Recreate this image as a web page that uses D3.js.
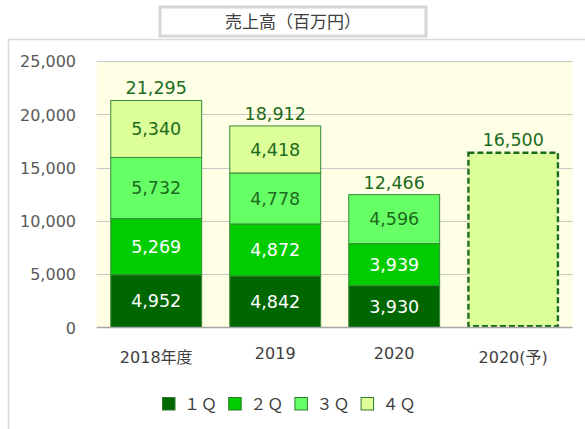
<!DOCTYPE html>
<html><head><meta charset="utf-8">
<script src="https://cdn.jsdelivr.net/npm/d3@7"></script>
<style>
html,body{margin:0;padding:0;background:#fff;}
svg{display:block;}
</style></head>
<body>
<svg id="chart" width="585" height="429"></svg>
<script>
const title = "売上高（百万円）";
const categories = ["2018年度", "2019", "2020", "2020(予)"];
const q1 = [4952, 4842, 3930, null];
const q2 = [5269, 4872, 3939, null];
const q3 = [5732, 4778, 4596, null];
const q4 = [5340, 4418, null, null];
const totals = [21295, 18912, 12466, 16500];
const forecast = [null, null, null, 16500];
const seriesNames = ["１Ｑ", "２Ｑ", "３Ｑ", "４Ｑ"];
const yTicks = [0, 5000, 10000, 15000, 20000, 25000];

const colors = ["#006600", "#00cc00", "#66ff66", "#ddff99"];
const labelColors = ["#ffffff", "#ffffff", "#1d6b1d", "#1d6b1d"];
const darkGreen = "#1d6b1d";
const fontLatin = "'DejaVu Sans', Verdana, sans-serif";
const fontCJK = "'Noto Sans CJK JP', 'DejaVu Sans', sans-serif";
const fontMixed = "'DejaVu Sans', 'Noto Sans CJK JP', sans-serif";

const svg = d3.select("#chart");
const fmt = d3.format(",");

// outer frame
svg.append("rect").attr("x", 8.5).attr("y", 39.5).attr("width", 600).attr("height", 420)
  .attr("fill", "#fff").attr("stroke", "#d9d9d9").attr("stroke-width", 1.5);

// title box
svg.append("rect").attr("x", 160).attr("y", 7).attr("width", 266).attr("height", 29)
  .attr("fill", "#fff").attr("stroke", "#d6d6d6").attr("stroke-width", 3);
svg.append("text").attr("x", 293).attr("y", 28).attr("text-anchor", "middle")
  .attr("font-family", fontCJK).attr("font-size", 17).attr("fill", "#404040").text(title);

const plotL = 96.7, plotR = 572.7, plotT = 61, plotB = 327.5;
const x = d3.scaleBand().domain(categories).range([plotL, plotR]).paddingInner(0.2275).paddingOuter(0.114);
const y = d3.scaleLinear().domain([0, 25000]).range([plotB, plotT]);

// plot background
svg.append("rect").attr("x", plotL).attr("y", plotT).attr("width", plotR - plotL).attr("height", plotB - plotT)
  .attr("fill", "#ffffe6");

// gridlines
svg.append("g").selectAll("line").data(yTicks.filter(d => d > 0)).join("line")
  .attr("x1", plotL).attr("x2", plotR)
  .attr("y1", d => Math.round(y(d)) + 0.5).attr("y2", d => Math.round(y(d)) + 0.5)
  .attr("stroke", "#c8c8c8").attr("stroke-width", 1);

// y axis labels
const yAxis = d3.axisLeft(y).tickValues(yTicks).tickFormat(fmt).tickSize(0).tickPadding(0);
const ya = svg.append("g").attr("transform", `translate(76,0)`).call(yAxis);
ya.select(".domain").remove();
ya.selectAll("text").attr("font-family", fontLatin).attr("font-size", 16).attr("fill", "#595959")
  .attr("dy", "0.36em");

// stacked bars
const series = [q1, q2, q3, q4];
const stackData = categories.map((c, i) => {
  const o = {cat: c};
  series.forEach((s, k) => o["k" + k] = s[i] || 0);
  return o;
});
const stack = d3.stack().keys(["k0", "k1", "k2", "k3"]);
const stacked = stack(stackData);

stacked.forEach((layer, k) => {
  const g = svg.append("g");
  const segs = layer.filter(d => d[1] - d[0] > 0);
  g.selectAll("rect").data(segs).join("rect")
    .attr("x", d => x(d.data.cat) + 0.5)
    .attr("width", x.bandwidth() - 1)
    .attr("y", d => y(d[1]))
    .attr("height", d => y(d[0]) - y(d[1]))
    .attr("fill", colors[k])
    .attr("stroke", "#3a8a3a").attr("stroke-width", 1);
  g.selectAll("text").data(segs).join("text")
    .attr("x", d => x(d.data.cat) + x.bandwidth() / 2)
    .attr("y", d => (y(d[0]) + y(d[1])) / 2)
    .attr("dy", "0.36em")
    .attr("text-anchor", "middle")
    .attr("font-family", fontLatin).attr("font-size", 17.5)
    .attr("fill", labelColors[k])
    .text(d => fmt(d[1] - d[0]));
});

// forecast bar (dashed)
const fData = categories.map((c, i) => ({cat: c, v: forecast[i]})).filter(d => d.v != null);
svg.append("g").selectAll("rect").data(fData).join("rect")
  .attr("x", d => x(d.cat) + 1.2)
  .attr("width", x.bandwidth() - 2.4)
  .attr("y", d => y(d.v) + 1.2)
  .attr("height", d => y(0) - y(d.v) - 2.4)
  .attr("fill", "#ddff99")
  .attr("stroke", darkGreen).attr("stroke-width", 2.4)
  .attr("stroke-dasharray", "6,3");

// baseline
svg.append("line").attr("x1", plotL).attr("x2", plotR).attr("y1", plotB).attr("y2", plotB)
  .attr("stroke", "#a6a6a6").attr("stroke-width", 1.5);

// totals
svg.append("g").selectAll("text").data(categories.map((c, i) => ({cat: c, v: totals[i]}))).join("text")
  .attr("x", d => x(d.cat) + x.bandwidth() / 2)
  .attr("y", d => y(d.v) - 6)
  .attr("text-anchor", "middle")
  .attr("font-family", fontLatin).attr("font-size", 17.5)
  .attr("fill", darkGreen)
  .text(d => fmt(d.v));

// category labels
const xAxis = d3.axisBottom(x).tickSize(0).tickPadding(0);
const xa = svg.append("g").attr("transform", `translate(0,${plotB})`).call(xAxis);
xa.select(".domain").remove();
xa.selectAll("text")
  .attr("font-family", fontMixed)
  .attr("font-size", 16).attr("fill", "#404040")
  .attr("dy", null)
  .attr("y", d => /[^\x00-\x7f]/.test(d) ? 35 : 31);

// legend
const legend = svg.append("g").selectAll("g").data(seriesNames).join("g")
  .attr("transform", (d, i) => `translate(${162 + i * 66.2},397)`);
legend.append("rect").attr("x", 0.5).attr("y", 0.5).attr("width", 12.5).attr("height", 12.5)
  .attr("fill", (d, i) => colors[i]).attr("stroke", "#2f7a2f").attr("stroke-width", 1);
legend.append("text").attr("x", 22).attr("y", 12.5)
  .attr("font-family", fontCJK).attr("font-size", 16).attr("fill", "#404040")
  .attr("letter-spacing", 1)
  .text(d => d);
</script>
</body></html>
